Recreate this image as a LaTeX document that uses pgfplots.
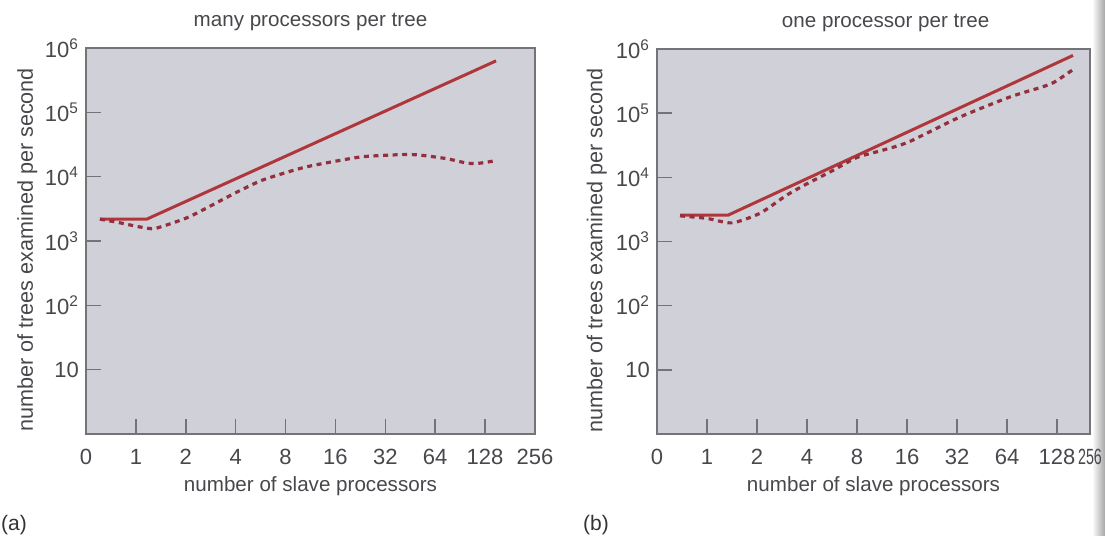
\documentclass[border=0pt]{standalone}
\usepackage{fontspec}
\setmainfont{Liberation Sans}
\usepackage{graphicx}
\usepackage{pgfplots}
\pgfplotsset{compat=1.18}
\definecolor{bg}{RGB}{207,208,216}
\definecolor{frame}{RGB}{115,115,120}
\definecolor{txt}{RGB}{72,72,76}
\definecolor{lred}{RGB}{175,55,60}
\definecolor{dred}{RGB}{148,48,62}
\pgfplotsset{
  mypanel/.style={
    scale only axis, ymin=1, ymax=1e6, xmin=0,
    axis background/.style={fill=bg},
    axis line style={frame, line width=0.7pt},
    tick align=inside, xtick pos=left, ytick pos=left,
    major tick length=7.5pt,
    tick style={frame, line width=0.8pt},
    ytick={10,100,1000,10000,100000,1000000},
    yticklabels={10,10\textsuperscript{2},10\textsuperscript{3},10\textsuperscript{4},10\textsuperscript{5},10\textsuperscript{6}},
    yminorticks=false, xminorticks=false,
    yticklabel style={font=\fontsize{11}{12}\selectfont, text=txt},
    xticklabel style={font=\fontsize{11}{12}\selectfont, text=txt, anchor=center, yshift=-11.5pt},
    xlabel={number of slave processors},
    ylabel={number of trees examined per second},
    label style={font=\fontsize{10.3}{12}\selectfont, text=txt},
    ylabel style={font=\fontsize{10.8}{12}\selectfont},
    xlabel style={at={(axis description cs:0.5,-0.135)}, anchor=center},
    title style={font=\fontsize{10.3}{12}\selectfont, text=txt, anchor=center, yshift=7pt},
  },
}
\begin{document}
\begin{tikzpicture}
\useasboundingbox (0,0) rectangle (552.5pt,268pt);
\shade[left color=white, right color=black!35] (546pt,0) rectangle (552.5pt,268pt);
% panel (a)
\begin{axis}[ymode=log, mypanel, at={(43pt,51pt)}, anchor=south west, width=224.5pt, height=193pt,
  xmax=9, xtick={0,1,2,3,4,5,6,7,8,9},
  xticklabels={0,1,2,4,8,16,32,64,128,256},
  ylabel style={at={(axis description cs:-0.131,0.477)}, anchor=center},
  title={many processors per tree},
  title style={at={(axis description cs:0.5,1)}}]
\addplot[lred, line width=1.5pt] coordinates {(0.28,2190) (1.22,2190) (8.22,631000)};
\addplot[dred, line width=1.6pt, dash pattern=on 2.5pt off 2.3pt, smooth, tension=0.4] coordinates {
  (0.28,2188) (0.7,1905) (1.0,1698) (1.32,1549) (1.5,1660) (2.08,2399)
  (3.0,5623) (3.55,8913) (4.35,13800) (5.0,17380) (5.55,20420) (6.23,21880)
  (6.63,21880) (7.23,19050) (7.64,16220) (7.9,16220) (8.22,17780)};
\end{axis}
% panel (b)
\begin{axis}[ymode=log, mypanel, at={(328.5pt,51pt)}, anchor=south west, width=216.5pt, height=192.5pt,
  xmax=8.66, xtick={0,1,2,3,4,5,6,7,8,8.66},
  xticklabels={0,1,2,4,8,16,32,64,128,\scalebox{0.65}[1]{256}},
  ylabel style={at={(axis description cs:-0.139,0.477)}, anchor=center},
  title={one processor per tree},
  title style={at={(axis description cs:0.528,1)}}]
\addplot[lred, line width=1.5pt] coordinates {(0.46,2570) (1.42,2570) (8.32,794000)};
\addplot[dred, line width=1.6pt, dash pattern=on 2.5pt off 2.3pt, smooth, tension=0.4] coordinates {
  (0.46,2512) (1.0,2291) (1.50,1950) (2.06,2754) (2.59,5248) (3.0,7943)
  (3.5,12590) (4.0,20420) (4.5,26300) (5.03,35480) (6.03,85110) (7.05,177800)
  (7.71,257000) (7.96,309000) (8.36,501000)};
\end{axis}
\node[font=\fontsize{10.5}{12}\selectfont, text=black!80] at (7pt,5.5pt) {(a)};
\node[font=\fontsize{10.5}{12}\selectfont, text=black!80] at (298pt,5.5pt) {(b)};
\end{tikzpicture}
\end{document}
